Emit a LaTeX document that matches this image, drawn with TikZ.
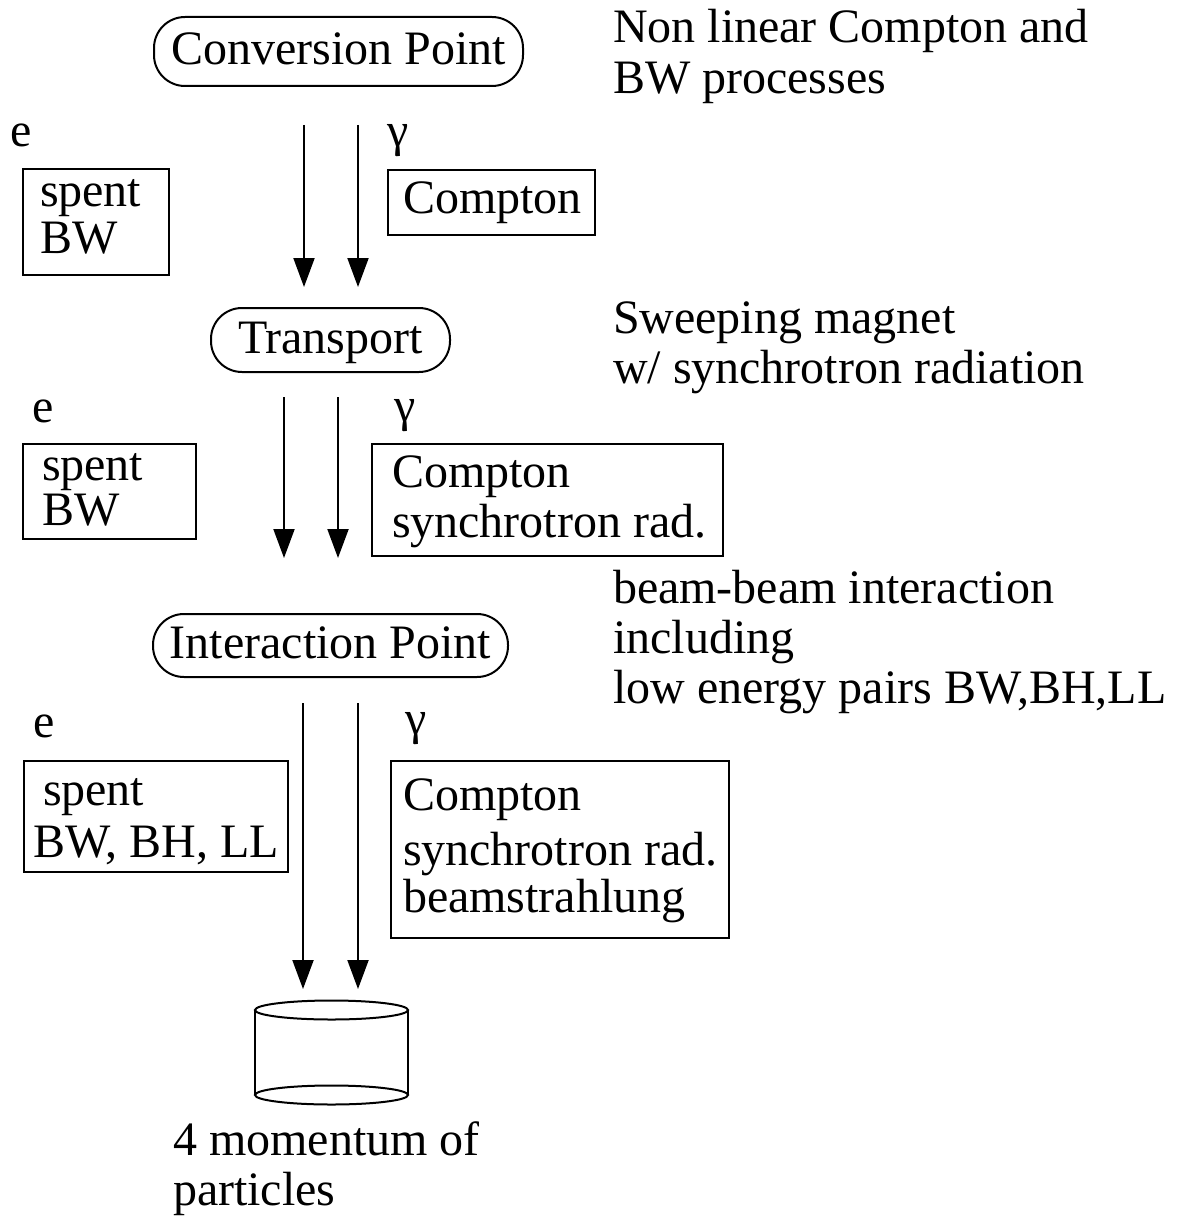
\documentclass[tikz,border=0pt]{standalone}
\usepackage{fontspec}
\setmainfont{Liberation Serif}
\usetikzlibrary{arrows.meta}
\begin{document}
\begin{tikzpicture}[x=1pt,y=-1pt,
  every node/.style={font=\fontsize{48}{50}\selectfont},
  txt/.style={anchor=base west, inner sep=0pt, outer sep=0pt},
  pill/.style={draw, line width=2pt, rounded corners=31pt, inner sep=0pt, text height=26pt, text depth=0pt},
  frame/.style={draw, line width=2pt, inner sep=0pt},
  flow/.style={line width=2pt, -{Triangle[length=29pt,width=21pt]}}]
\useasboundingbox (0,0) rectangle (1177,1217);

% ---- stage nodes
\node[pill, minimum width=369pt, minimum height=69pt] (conv) at (338.5,51.5) {Conversion Point};
\node[pill, minimum width=239pt, minimum height=64pt] (trans) at (330.5,340) {Transport};
\node[pill, minimum width=355pt, minimum height=63pt] (inter) at (330.5,645.5) {Interaction Point};

% ---- annotations on the right
\node[txt] (n1a) at (613,43) {Non linear Compton and};
\node[txt] (n1b) at (613,94) {BW processes};
\node[txt] (n2a) at (613,333) {Sweeping magnet};
\node[txt] (n2b) at (613,383) {w/ synchrotron radiation};
\node[txt] (n3a) at (613,603) {beam-beam interaction};
\node[txt] (n3b) at (613,653) {including};
\node[txt] (n3c) at (613,703) {low energy pairs BW,BH,LL};

% ---- stage 1 outputs
\node[txt] (e1) at (10,147) {e};
\node[txt] (g1) at (387,147) {γ};
\node[frame, minimum width=146pt, minimum height=106pt] (b1e) at (96,222) {};
\node[txt] (b1e1) at (40,207) {spent};
\node[txt] (b1e2) at (40,253) {BW};
\node[frame, minimum width=207pt, minimum height=65pt] (b1g) at (491.5,202.5) {};
\node[txt] (b1g1) at (403,213) {Compton};

% ---- stage 2 outputs
\node[txt] (e2) at (32,422) {e};
\node[txt] (g2) at (394,421) {γ};
\node[frame, minimum width=173pt, minimum height=95pt] (b2e) at (109.5,491) {};
\node[txt] (b2e1) at (42,480) {spent};
\node[txt] (b2e2) at (42,525) {BW};
\node[frame, minimum width=351pt, minimum height=112pt] (b2g) at (547.5,500) {};
\node[txt] (b2g1) at (392,487) {Compton};
\node[txt] (b2g2) at (392,537) {synchrotron rad.};

% ---- stage 3 outputs
\node[txt] (e3) at (33,737) {e};
\node[txt] (g3) at (405,734) {γ};
\node[frame, minimum width=264pt, minimum height=111pt] (b3e) at (156,816.5) {};
\node[txt] (b3e1) at (43,805) {spent};
\node[txt] (b3e2) at (33,857) {BW, BH, LL};
\node[frame, minimum width=338pt, minimum height=177pt] (b3g) at (560,849.5) {};
\node[txt] (b3g1) at (403,810) {Compton};
\node[txt] (b3g2) at (403,865) {synchrotron rad.};
\node[txt] (b3g3) at (403,912) {beamstrahlung};

% ---- flow arrows
\coordinate (a1s) at (304,125);  \coordinate (a1e) at (304,287);
\coordinate (a2s) at (358,125);  \coordinate (a2e) at (358,287);
\coordinate (a3s) at (284,397);  \coordinate (a3e) at (284,558);
\coordinate (a4s) at (338,397);  \coordinate (a4e) at (338,558);
\coordinate (a5s) at (303,703);  \coordinate (a5e) at (303,989);
\coordinate (a6s) at (358,703);  \coordinate (a6e) at (358,989);
\draw[flow] (a1s) -- (a1e);
\draw[flow] (a2s) -- (a2e);
\draw[flow] (a3s) -- (a3e);
\draw[flow] (a4s) -- (a4e);
\draw[flow] (a5s) -- (a5e);
\draw[flow] (a6s) -- (a6e);

% ---- data store (cylinder)
\coordinate (cyltop) at (331.5,1010);
\coordinate (cylbot) at (331.5,1095);
\draw[line width=2pt] (cyltop) ellipse [x radius=76.5, y radius=9.5];
\draw[line width=2pt] (cylbot) ellipse [x radius=76.5, y radius=9.5];
\draw[line width=2pt] ([xshift=-76.5pt]cyltop) -- ([xshift=-76.5pt]cylbot);
\draw[line width=2pt] ([xshift=76.5pt]cyltop) -- ([xshift=76.5pt]cylbot);

\node[txt] (out1) at (173,1155) {4 momentum of};
\node[txt] (out2) at (173,1205) {particles};
\end{tikzpicture}
\end{document}
